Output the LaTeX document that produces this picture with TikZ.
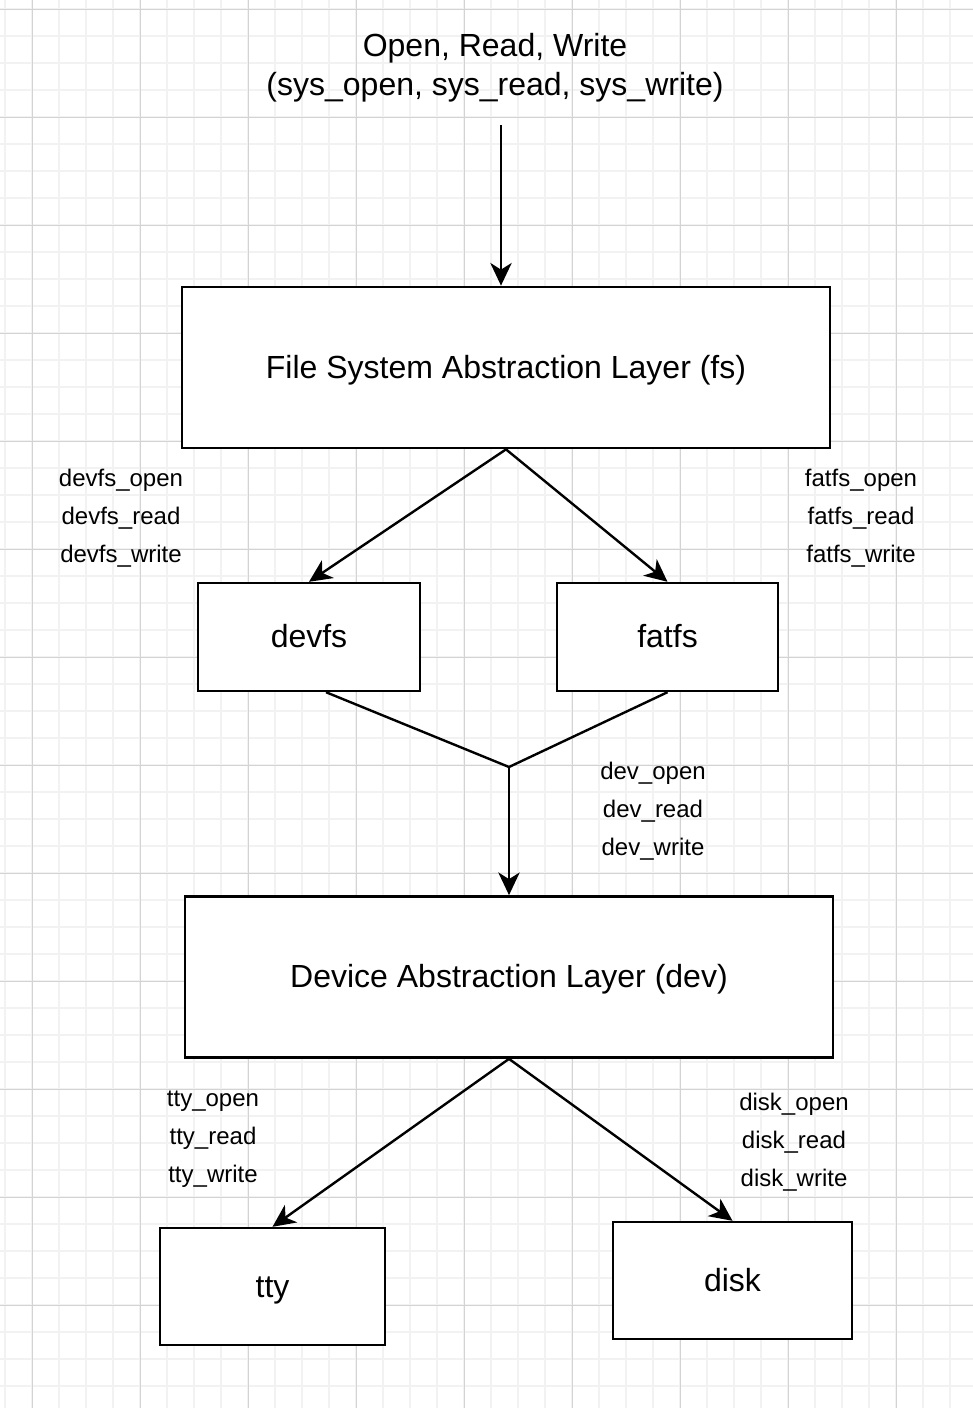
\documentclass[tikz,border=0pt]{standalone}
\usepackage{fontspec}
\setmainfont{Liberation Sans}
\usepackage{tikz}
\usetikzlibrary{arrows.meta,positioning}
\definecolor{GridFaint}{HTML}{F2F2F2}
\definecolor{GridMajor}{HTML}{D3D3D3}

\begin{document}
\begin{tikzpicture}[
  x=0.75pt,y=-0.75pt,
  layer/.style={draw=black,line width=1.8pt,fill=white,minimum width=486pt,minimum height=121pt,inner sep=0pt,text height=20.8pt,text depth=5pt,font=\fontsize{24}{29.25}\selectfont},
  fsbox/.style={layer,minimum width=0pt,minimum height=81pt},
  drvbox/.style={fsbox,minimum height=87.75pt},
  head/.style={align=center,font=\fontsize{24}{29.25}\selectfont},
  ops/.style={align=center,font=\fontsize{18}{28.7}\selectfont},
  arrow/.style={-{Stealth[length=17pt,width=16pt,inset=5pt]},line width=1.8pt,draw=black},
  link/.style={line width=1.8pt,draw=black},
  faint/.style={draw=GridFaint,line width=1.3pt},
  major/.style={draw=GridMajor,line width=0.75pt}
]
  % paper and grid
  \useasboundingbox (0,0) rectangle (973,1408);
  \fill[white] (0,0) rectangle (973,1408);
  \foreach \i in {0,...,35}
    \draw[faint] ({5.3+27*\i},0) -- ({5.3+27*\i},1408);
  \foreach \i in {0,...,51}
    \draw[faint] (0,{9.3+27*\i}) -- (973,{9.3+27*\i});
  \foreach \i in {0,...,8}
    \draw[major] ({32.3+108*\i},0) -- ({32.3+108*\i},1408);
  \foreach \i in {0,...,12}
    \draw[major] (0,{9.3+108*\i}) -- (973,{9.3+108*\i});

  \node[head] (syscalls) at (495,67.5) {Open, Read, Write\\(sys\_open, sys\_read, sys\_write)};
  \node[layer] (fs) at (506,367.5) {File System Abstraction Layer (fs)};
  \node[fsbox,minimum width=166.5pt] (devfs) at (309,637) {devfs};
  \node[fsbox,minimum width=165.75pt] (fatfs) at (667.5,637) {fatfs};
  \node[layer] (dev) at (509,977) {Device Abstraction Layer (dev)};
  \node[drvbox,minimum width=168.75pt] (tty) at (272.5,1286.5) {tty};
  \node[drvbox,minimum width=179.25pt] (disk) at (732.5,1280.5) {disk};

  \node[ops] (devfsops) at (121,518) {devfs\_open\\devfs\_read\\devfs\_write};
  \node[ops] (fatfsops) at (861,518) {fatfs\_open\\fatfs\_read\\fatfs\_write};
  \node[ops] (devops) at (653,811) {dev\_open\\dev\_read\\dev\_write};
  \node[ops] (ttyops) at (213,1139) {tty\_open\\tty\_read\\tty\_write};
  \node[ops] (diskops) at (794,1142) {disk\_open\\disk\_read\\disk\_write};

  \coordinate (entry) at (501,125);
  \coordinate (merge) at (509,767);
  \draw[arrow] (entry) -- (entry |- fs.north);
  \draw[arrow] (fs.south) -- (devfs.north);
  \draw[arrow] (fs.south) -- (fatfs.north);
  \draw[link] ([xshift=12.75pt]devfs.south) -- (merge) -- (fatfs.south);
  \draw[arrow] (merge) -- (merge |- dev.north);
  \draw[arrow] (dev.south) -- (tty.north);
  \draw[arrow] (dev.south) -- (disk.north);
\end{tikzpicture}
\end{document}
